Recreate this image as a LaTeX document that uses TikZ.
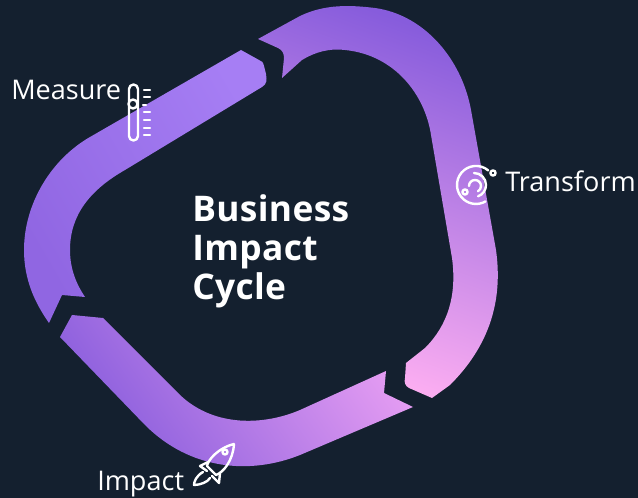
\documentclass[tikz,border=0pt]{standalone}
\usepackage{fontspec}
\setmainfont{Open Sans}
\definecolor{bgdark}{HTML}{14202F}
\definecolor{lilac}{HTML}{A67EF4}
\definecolor{softviolet}{HTML}{9066E2}
\definecolor{violet}{HTML}{875CDC}
\definecolor{midlilac}{HTML}{9E70E8}
\definecolor{pinky}{HTML}{FFB0F2}
\definecolor{softpink}{HTML}{E49CF2}
\tikzstyle{segment} = [draw=none]
\tikzstyle{iconline} = [draw=white, line width=1.8pt, line cap=round, line join=round]
\tikzstyle{tagtext} = [text=white, anchor=base west, inner sep=0pt, font=\fontsize{20.3}{24}\selectfont]
\tikzstyle{title} = [text=white, anchor=north west, inner sep=0pt, font=\fontsize{26.5}{29.25}\selectfont\bfseries\addfontfeature{LetterSpace=1}, align=left]

\begin{document}
\begin{tikzpicture}[x=0.75pt, y=-0.75pt]
\useasboundingbox (0,0) rectangle (638,498);
\fill [bgdark] (0,0) rectangle (638,498);

% the three arrows
\path [segment, bottom color=softviolet, top color=lilac, shading angle=-60]
  (241,50) -- (90,137) .. controls (50,160) and (24,205) .. (24,250)
  .. controls (24,280) and (35,303) .. (49,323) -- (62,295) -- (85,297)
  .. controls (77,285) and (70,270) .. (70,250) .. controls (70,215) and (90,190) .. (125,170)
  -- (262,87) .. controls (267,84) and (267,80) .. (266,74) -- (264,66)
  .. controls (263,62) and (262,61) .. (259,60) -- cycle;
\path [segment, top color=violet, middle color=lilac, bottom color=pinky, shading angle=-20]
  (258,39) -- (300,16) .. controls (325,4) and (350,5) .. (375,8)
  .. controls (425,15) and (462,60) .. (471,110) -- (496,250)
  .. controls (503,300) and (490,345) .. (450,385) -- (432,398) -- (409,388)
  .. controls (405,386) and (404,382) .. (405,378) -- (406,363) -- (425,348)
  .. controls (448,325) and (457,295) .. (452,258) -- (431,135)
  .. controls (425,95) and (395,55) .. (345,50) .. controls (330,48) and (315,52) .. (302,60)
  -- (282,78) -- (284,58) .. controls (284,53) and (282,50) .. (278,48) -- cycle;
\path [segment, left color=violet, middle color=midlilac, right color=softpink, shading angle=125]
  (60,337) -- (72,315) -- (103,318) -- (180,395)
  .. controls (215,428) and (265,425) .. (300,410) -- (386,371) -- (384,393) -- (413,407)
  -- (300,455) .. controls (250,475) and (190,470) .. (145,425) -- cycle;

% thermometer
\draw [iconline] (129,89) arc (180:360:4.5) -- (138,136) arc (0:180:4.5) -- cycle;
\draw [iconline, fill=bgdark] (133,104) circle (4.5);
\foreach \ypos in {90,97,112,120,128,135}
  \draw [iconline] (144,\ypos) -- (150,\ypos);
\draw [iconline] (143,105) -- (146,105);

% planet
\draw [iconline] (488.2,170.4) arc (-50:-300:19);
\draw [iconline] (474,173) arc (-90:70:12);
\draw [iconline] (469,186) arc (180:420:6);
\draw [iconline] (493,173) circle (2.6);
\draw [iconline] (465,192) circle (2.6);

% rocket
\draw [iconline] (234,444) .. controls (218,448) and (208,460) .. (207,466)
  -- (216,475) .. controls (224,472) and (233,460) .. (234,444);
\draw [iconline] (225,452) circle (2.5);
\draw [iconline] (208,462) -- (200,466) -- (207,471);
\draw [iconline] (220,473) -- (219,483) -- (212,476);
\draw [iconline] (203,472) .. controls (196,476) and (194,482) .. (194,485)
  .. controls (200,485) and (208,482) .. (210,478);

\node (measure) [tagtext] at (11,100) {Measure};
\node (transform) [tagtext] at (505,191.5) {Transform};
\node (impact) [tagtext] at (97,490) {Impact};
\node (cycle) [title] at (192,194) {Business\\Impact\\Cycle};
\end{tikzpicture}
\end{document}
